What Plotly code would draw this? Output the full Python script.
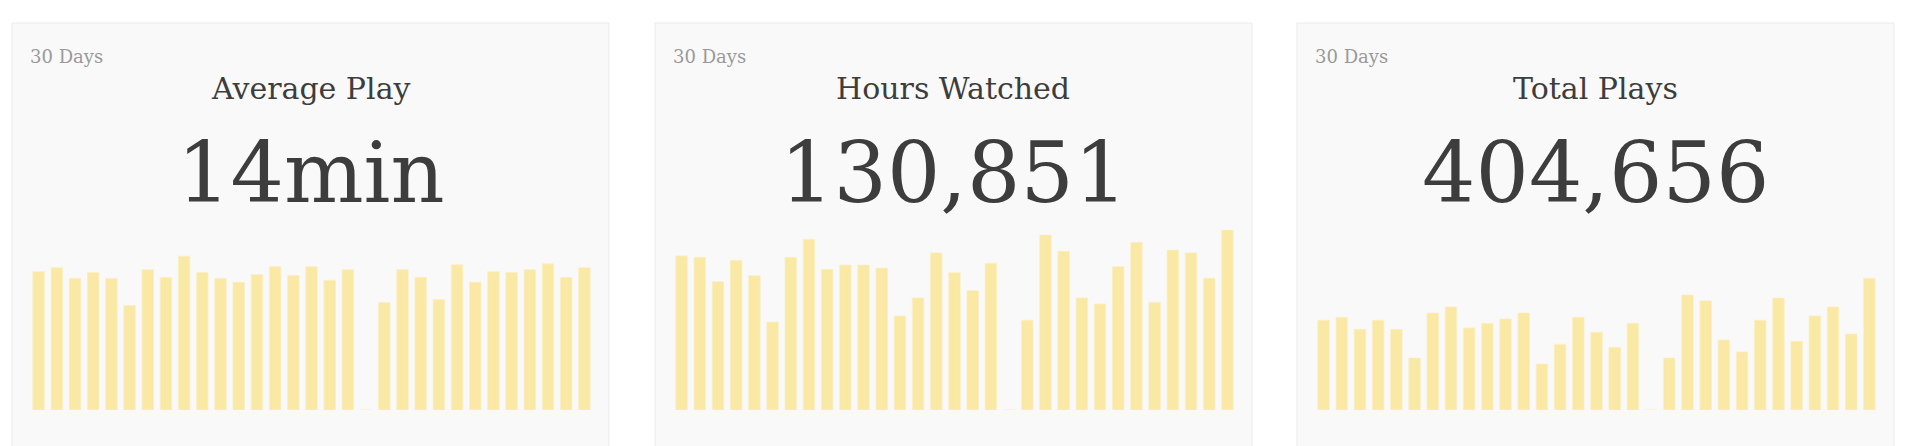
import plotly.graph_objects as go

# ---------------- data ----------------
days = [f"D{i}" for i in range(1, 32)]

avg_play_min = [14.3, 14.7, 13.6, 14.2, 13.6, 10.8, 14.5, 13.7, 15.9, 14.2,
                13.6, 13.2, 14.0, 14.8, 13.9, 14.8, 13.4, 14.5, 0, 11.1,
                14.5, 13.7, 11.4, 15.0, 13.2, 14.3, 14.2, 14.5, 15.1, 13.7, 14.7]

hours_watched = [4850, 4810, 4040, 4715, 4230, 2770, 4810, 5375, 4430, 4565,
                 4565, 4470, 2960, 3530, 4945, 4325, 3760, 4620, 0, 2825,
                 5510, 5000, 3530, 3340, 4515, 5280, 3390, 5040, 4945, 4150, 5670]

total_plays = [14220, 14690, 12790, 14220, 12790, 8240, 15375, 16330, 13000, 13740,
               14425, 15375, 7290, 10415, 14690, 12315, 9940, 13740, 0, 8240,
               18230, 17280, 11095, 9195, 14220, 17750, 10890, 14900, 16330, 12045, 20875]

titles = ["Average Play", "Hours Watched", "Total Plays"]
big_values = ["14min", "130,851", "404,656"]
period_label = "30 Days"
y_max = [18.6, 5670, 28530]
series = [avg_play_min, hours_watched, total_plays]

# ---------------- layout constants (pixels) ----------------
W, H = 1906, 446
panel_left = [12, 655, 1297]
panel_w = 597
panel_top = 23
bar_bottom = 410
bar_top = 230
plot_w = 564
plot_off = 17.5

FONT = "Roboto Slab, DejaVu Serif, serif"
BAR = "#fae8a5"

def px(x):
    return x / W

def py(y):
    return 1 - y / H

fig = go.Figure()
shapes = []
annotations = []

for i in range(3):
    L = panel_left[i]
    cx = L + panel_w / 2
    shapes.append(dict(type="rect", xref="paper", yref="paper",
                       x0=px(L), x1=px(L + panel_w), y0=py(H + 20), y1=py(panel_top),
                       fillcolor="#f9f9f9", line=dict(color="#ebebeb", width=1),
                       layer="below"))
    xa = "x" if i == 0 else f"x{i+1}"
    ya = "y" if i == 0 else f"y{i+1}"
    fig.add_trace(go.Bar(x=days, y=series[i], xaxis=xa, yaxis=ya,
                         marker=dict(color=BAR, line=dict(color="#fbefc4", width=0.8)),
                         hoverinfo="y", showlegend=False))
    axkey = "xaxis" if i == 0 else f"xaxis{i+1}"
    aykey = "yaxis" if i == 0 else f"yaxis{i+1}"
    fig.update_layout(**{
        axkey: dict(domain=[px(L + plot_off), px(L + plot_off + plot_w)],
                    anchor=ya, visible=False, fixedrange=True),
        aykey: dict(domain=[py(bar_bottom), py(bar_top)], range=[0, y_max[i]],
                    anchor=xa, visible=False, fixedrange=True),
    })
    annotations.append(dict(text=period_label, x=px(L + 16), y=py(56), xref="paper", yref="paper",
                            xanchor="left", yanchor="middle", showarrow=False,
                            font=dict(family=FONT, size=18, color="#999999")))
    annotations.append(dict(text=titles[i], x=px(cx), y=py(88), xref="paper", yref="paper",
                            xanchor="center", yanchor="middle", showarrow=False,
                            font=dict(family=FONT, size=30, color="#3d3d3d")))
    annotations.append(dict(text=big_values[i], x=px(cx), y=py(173), xref="paper", yref="paper",
                            xanchor="center", yanchor="middle", showarrow=False,
                            font=dict(family=FONT, size=84, color="#3d3d3d")))

fig.update_layout(width=W, height=H, margin=dict(l=0, r=0, t=0, b=0),
                  paper_bgcolor="white", plot_bgcolor="rgba(0,0,0,0)",
                  bargap=0.37, shapes=shapes, annotations=annotations)

fig.write_html("out.html", config={"displayModeBar": False},
               post_script="document.body.style.margin='0';document.body.style.overflow='hidden';")
